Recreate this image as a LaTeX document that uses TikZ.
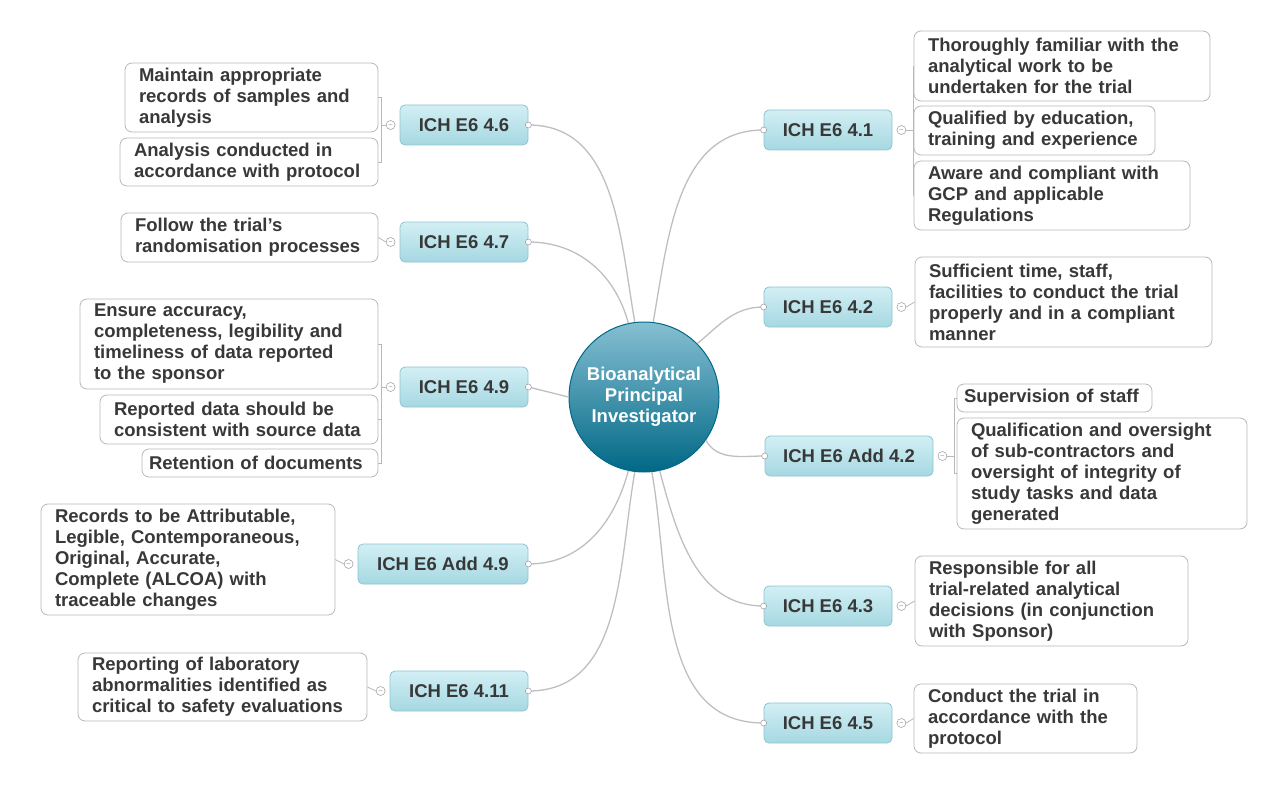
\documentclass[tikz,border=0pt]{standalone}
\usepackage{fontspec}
\setmainfont{Liberation Sans}
\definecolor{ctop}{HTML}{86BFD2}
\definecolor{cbot}{HTML}{006886}
\definecolor{btop}{HTML}{D2EFF4}
\definecolor{bbot}{HTML}{A6D8E2}
\definecolor{bdr}{HTML}{8CC5D1}
\newcommand\Ln[1]{\mbox{#1}}
\begin{document}
\begin{tikzpicture}[x=1pt,y=-1pt,
  every node/.style={font=\bfseries\fontsize{18.5}{21}\selectfont, text=black!78},
  leaf/.style={draw=black!28, rounded corners=7pt, fill=white, align=left, inner xsep=14pt, inner ysep=0pt, line width=0.8pt},
  br/.style={draw=bdr, rounded corners=5pt, top color=btop, bottom color=bbot, minimum height=40pt, line width=0.8pt},
  ln/.style={draw=black!25, line width=1.3pt},
  bl/.style={draw=black!28, line width=0.8pt},
  knob/.style={circle, draw=black!40, fill=white, inner sep=0pt, minimum size=9pt, font=\tiny, line width=0.5pt},
  dot/.style={circle, draw=black!40, fill=white, inner sep=0pt, minimum size=6pt, line width=0.5pt}]
\useasboundingbox (0,0) rectangle (1285,789);
% center
\node[circle, minimum size=150pt, top color=ctop, bottom color=cbot, draw=cbot, line width=1pt, text=white, align=center] (c) at (644,397) {Bioanalytical\\Principal\\Investigator};
% branches
\node[br, minimum width=128pt] (b46) at (464,125) {ICH E6 4.6};
\node[br, minimum width=128pt] (b47) at (464,242) {ICH E6 4.7};
\node[br, minimum width=128pt] (b49) at (464,387) {ICH E6 4.9};
\node[br, minimum width=170pt] (ba49) at (443,564) {ICH E6 Add 4.9};
\node[br, minimum width=138pt] (b411) at (459,691) {ICH E6 4.11};
\node[br, minimum width=128pt] (b41) at (828,130) {ICH E6 4.1};
\node[br, minimum width=128pt] (b42) at (828,307) {ICH E6 4.2};
\node[br, minimum width=168pt] (ba42) at (849,456) {ICH E6 Add 4.2};
\node[br, minimum width=128pt] (b43) at (828,606) {ICH E6 4.3};
\node[br, minimum width=128pt] (b45) at (828,723) {ICH E6 4.5};
% center connectors
\draw[ln] (c.97) to[out=100,in=0] (b46.east);
\draw[ln] (c.102) to[out=105,in=0] (b47.east);
\draw[ln] (c.180) -- (b49.east);
\draw[ln] (c.258) to[out=255,in=0] (ba49.east);
\draw[ln] (c.263) to[out=260,in=0] (b411.east);
\draw[ln] (c.83) to[out=80,in=180] (b41.west);
\draw[ln] (c.45) to[out=40,in=180] (b42.west);
\draw[ln] (c.-35) to[out=-60,in=180] (ba42.west);
\draw[ln] (c.-78) to[out=-75,in=180] (b43.west);
\draw[ln] (c.-84) to[out=-80,in=180] (b45.west);
\foreach \b in {b46,b47,b49,ba49,b411} \node[dot] at (\b.east) {};
\foreach \b in {b41,b42,ba42,b43,b45} \node[dot] at (\b.west) {};
% leaves
\node[leaf, text width=225pt, minimum height=69pt] (l1) at (251.5,97.5) {\Ln{Maintain appropriate}\\\Ln{records of samples and}\\\Ln{analysis}};
\node[leaf, text width=230pt, minimum height=48pt] (l2) at (249,162) {\Ln{Analysis conducted in}\\\Ln{accordance with protocol}};
\node[leaf, text width=229pt, minimum height=49pt] (l3) at (249.5,237.5) {\Ln{Follow the trial's}\\\Ln{randomisation processes}};
\node[leaf, text width=270pt, minimum height=90pt] (l4) at (229,344) {\Ln{Ensure accuracy,}\\\Ln{completeness, legibility and}\\\Ln{timeliness of data reported}\\\Ln{to the sponsor}};
\node[leaf, text width=250pt, minimum height=49pt] (l5) at (239,419.5) {\Ln{Reported data should be}\\\Ln{consistent with source data}};
\node[leaf, text width=208pt, minimum height=28pt, inner xsep=7pt, text width=222pt] (l6) at (260,463) {\Ln{Retention of documents}};
\node[leaf, text width=266pt, minimum height=111pt] (l7) at (188,559.5) {\Ln{Records to be Attributable,}\\\Ln{Legible, Contemporaneous,}\\\Ln{Original, Accurate,}\\\Ln{Complete (ALCOA) with}\\\Ln{traceable changes}};
\node[leaf, text width=261pt, minimum height=68pt] (l8) at (222.5,687) {\Ln{Reporting of laboratory}\\\Ln{abnormalities identified as}\\\Ln{critical to safety evaluations}};
\node[leaf, text width=268pt, minimum height=70pt] (r1) at (1062,66) {\Ln{Thoroughly familiar with the}\\\Ln{analytical work to be}\\\Ln{undertaken for the trial}};
\node[leaf, text width=213pt, minimum height=49pt] (r2) at (1034.5,130.5) {\Ln{Qualified by education,}\\\Ln{training and experience}};
\node[leaf, text width=248pt, minimum height=69pt] (r3) at (1052,195.5) {\Ln{Aware and compliant with}\\\Ln{GCP and applicable}\\\Ln{Regulations}};
\node[leaf, text width=269pt, minimum height=90pt] (r4) at (1063.5,302) {\Ln{Sufficient time, staff,}\\\Ln{facilities to conduct the trial}\\\Ln{properly and in a compliant}\\\Ln{manner}};
\node[leaf, minimum height=28pt, inner xsep=7pt, text width=181pt] (r5) at (1054.5,398) {\Ln{Supervision of staff}};
\node[leaf, text width=262pt, minimum height=111pt] (r6) at (1102,473.5) {\Ln{Qualification and oversight}\\\Ln{of sub-contractors and}\\\Ln{oversight of integrity of}\\\Ln{study tasks and data}\\\Ln{generated}};
\node[leaf, text width=245pt, minimum height=90pt] (r7) at (1051.5,601) {\Ln{Responsible for all}\\\Ln{trial-related analytical}\\\Ln{decisions (in conjunction}\\\Ln{with Sponsor)}};
\node[leaf, text width=195pt, minimum height=69pt] (r8) at (1025.5,718.5) {\Ln{Conduct the trial in}\\\Ln{accordance with the}\\\Ln{protocol}};
% brackets left
\node[knob] (k46) at ([xshift=-9pt]b46.west) {$-$};
\node[knob] (k47) at ([xshift=-9pt]b47.west) {$-$};
\node[knob] (k49) at ([xshift=-9pt]b49.west) {$-$};
\node[knob] (ka49) at ([xshift=-9pt]ba49.west) {$-$};
\node[knob] (k411) at ([xshift=-9pt]b411.west) {$-$};
\draw[bl] (k46.west) -- ++(-4,0) coordinate (j46);
\draw[bl] (j46) |- (l1.east); \draw[bl] (j46) |- (l2.east);
\draw[bl] (k47.west) -- (l3.east);
\draw[bl] (k49.west) -- ++(-4,0) coordinate (j49);
\draw[bl] (j49) |- (l4.east); \draw[bl] (j49) |- (l5.east); \draw[bl] (j49) |- (l6.east);
\draw[bl] (ka49.west) -- (l7.east);
\draw[bl] (k411.west) -- (l8.east);
% brackets right
\node[knob] (k41) at ([xshift=9pt]b41.east) {$-$};
\node[knob] (k42) at ([xshift=9pt]b42.east) {$-$};
\node[knob] (ka42) at ([xshift=9pt]ba42.east) {$-$};
\node[knob] (k43) at ([xshift=9pt]b43.east) {$-$};
\node[knob] (k45) at ([xshift=9pt]b45.east) {$-$};
\draw[bl] (k41.east) -- ++(7,0) coordinate (j41);
\draw[bl] (j41) |- (r1.west); \draw[bl] (j41) |- (r2.west); \draw[bl] (j41) |- (r3.west);
\draw[bl] (k42.east) -- (r4.west);
\draw[bl] (ka42.east) -- ++(7,0) coordinate (j42);
\draw[bl] (j42) |- (r5.west); \draw[bl] (j42) |- (r6.west);
\draw[bl] (k43.east) -- (r7.west);
\draw[bl] (k45.east) -- (r8.west);
\end{tikzpicture}
\end{document}
